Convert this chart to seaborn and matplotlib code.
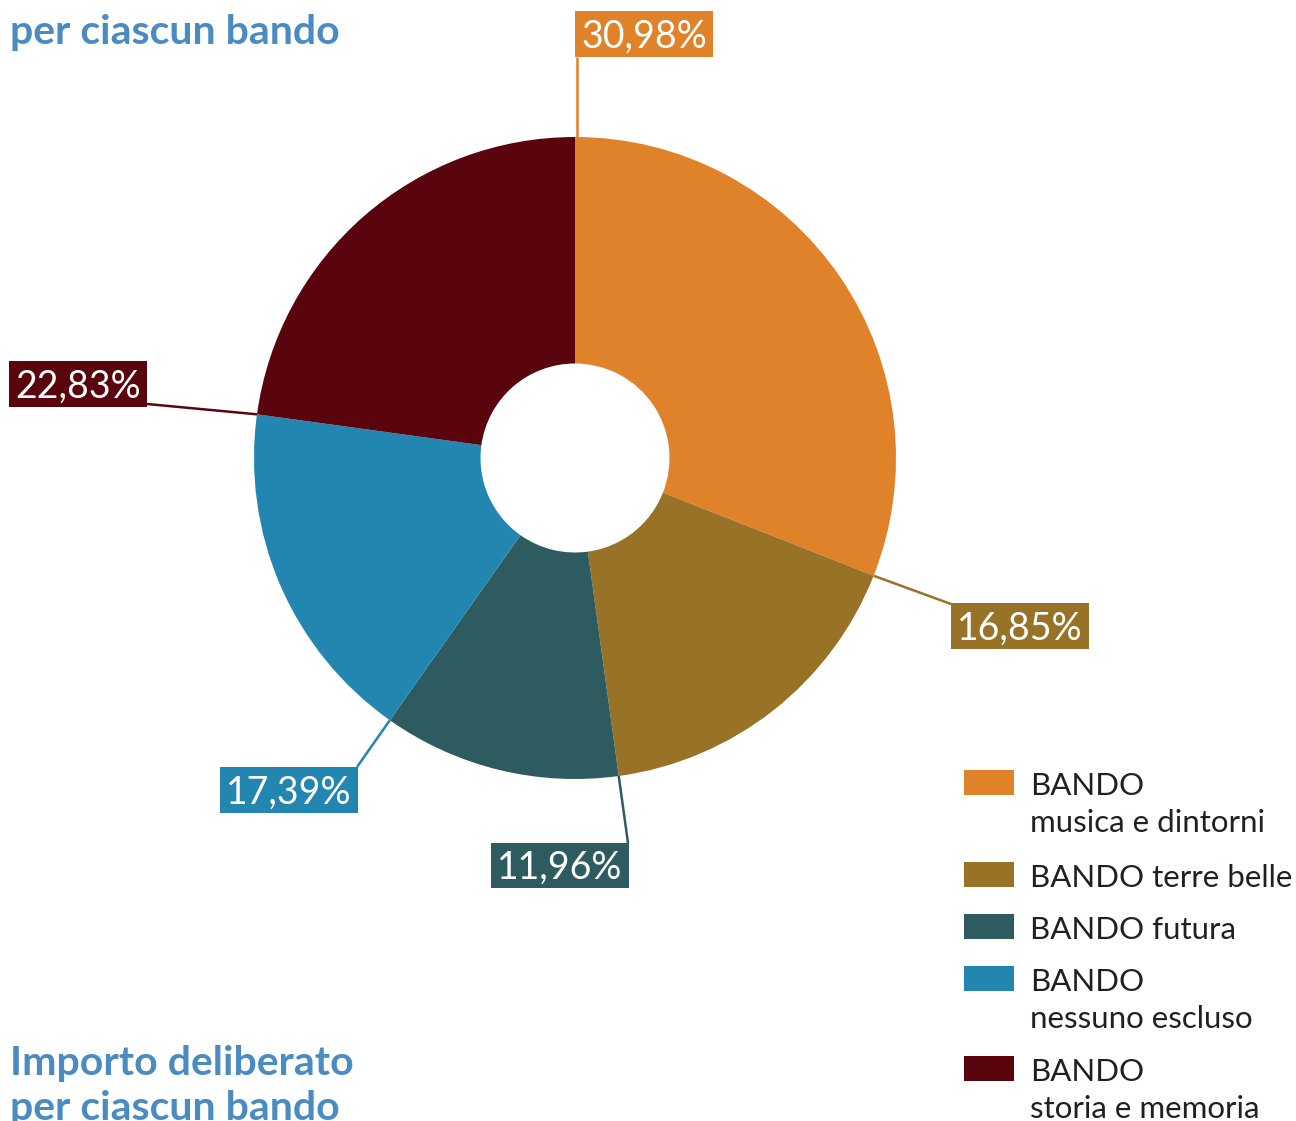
import matplotlib.pyplot as plt
from matplotlib.patches import Rectangle
import numpy as np
import seaborn as sns

# Dati
categorie = ['BANDO\nmusica e dintorni', 'BANDO terre belle', 'BANDO futura',
             'BANDO\nnessuno escluso', 'BANDO\nstoria e memoria']
percentuali = [30.98, 16.85, 11.96, 17.39, 22.83]
etichette = ['30,98%', '16,85%', '11,96%', '17,39%', '22,83%']
colori = ['#E0822A', '#987226', '#2E5B60', '#2286B0', '#5A050E']

titolo_alto = 'per ciascun bando'
titolo_basso = ['Importo deliberato', 'per ciascun bando']

sns.set_theme(style='white')
plt.rcParams['font.family'] = ['Lato', 'DejaVu Sans']

W, H = 1296, 1121
fig = plt.figure(figsize=(W / 100, H / 100), dpi=100)
ax = fig.add_axes([0, 0, 1, 1])


def Y(y):
    # coordinate in pixel dall'alto
    return H - y


cx, cy = 575, Y(458)
r_out, r_in = 321, 94.5
wedges, _ = ax.pie(percentuali, colors=colori, startangle=90, counterclock=False,
                   center=(cx, cy), radius=r_out,
                   wedgeprops=dict(width=r_out - r_in, linewidth=0))
ax.set_xlim(0, W)
ax.set_ylim(0, H)
ax.axis('off')

# Box delle etichette (sinistra, alto, destra, basso) e punto di aggancio
box = [(575, 11, 713, 57), (951, 603, 1089, 649), (491, 843, 629, 888),
       (220, 767, 358, 813), (9, 361, 147, 407)]
aggancio = [(576.5, 57), (951, 604), (628, 843), (357, 767), (147, 404)]

for w, lab, col, (l, t, r, b), (ax_, ay_) in zip(wedges, etichette, colori, box, aggancio):
    ang = np.deg2rad(w.theta2)
    x0 = cx + r_out * np.cos(ang)
    y0 = cy + r_out * np.sin(ang)
    if w.theta2 == 90:
        x0 = ax_
    ax.plot([x0, ax_], [y0, Y(ay_)], color=col, lw=1.8, solid_capstyle='butt', zorder=1)
    ax.add_patch(Rectangle((l, Y(b)), r - l, b - t, facecolor=col, edgecolor='none', zorder=2))
    ax.text((l + r) / 2, Y(b - 9), lab, color='white', fontsize=27,
            ha='center', va='baseline', zorder=3)

# Legenda
quadrati_top = [770, 862, 914, 966, 1056]
for cat, col, t in zip(categorie, colori, quadrati_top):
    ax.add_patch(Rectangle((964, Y(t + 25)), 50, 25, facecolor=col, edgecolor='none'))
    for i, riga in enumerate(cat.split('\n')):
        ax.text(1030, Y(t + 25 + 37 * i), riga, color='#231F20', fontsize=22.5,
                ha='left', va='baseline')

# Titoli
blu = '#4A8BC1'
ax.text(10, Y(44), titolo_alto, color=blu, fontsize=29.5, fontweight='bold',
        ha='left', va='baseline')
for i, riga in enumerate(titolo_basso):
    ax.text(10, Y(1075 + 45 * i), riga, color=blu, fontsize=29.5, fontweight='bold',
            ha='left', va='baseline')

fig.savefig('out.png', dpi=100)
